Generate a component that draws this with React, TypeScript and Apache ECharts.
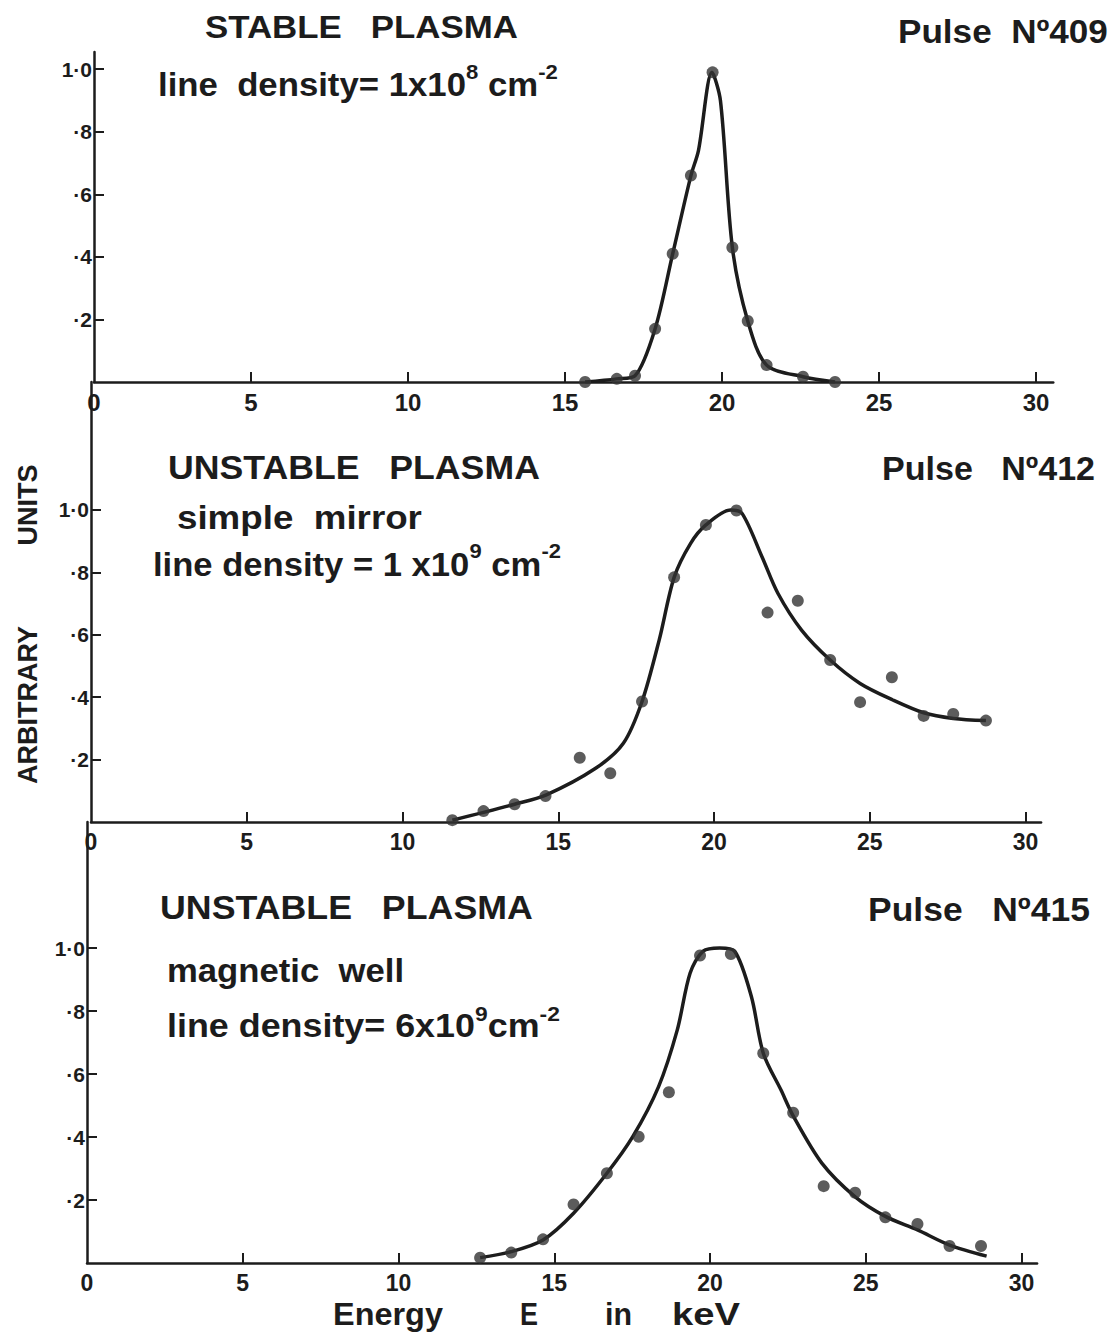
import React, { useEffect, useRef } from 'react';
import * as echarts from 'echarts';

// ---------- data ----------
const ENERGY_TICKS = [5, 10, 15, 20, 25, 30];
const ENERGY_LABELS = [0, 5, 10, 15, 20, 25, 30];
const INTENSITY_TICKS = [0.2, 0.4, 0.6, 0.8, 1.0];

// Panel 1: stable plasma, pulse 409
const p1Energy = [15.64, 16.65, 17.23, 17.87, 18.43, 19.01, 19.7, 20.33, 20.82, 21.42, 22.58, 23.6];
const p1Intensity = [0.0, 0.01, 0.02, 0.17, 0.41, 0.66, 0.99, 0.43, 0.195, 0.054, 0.017, 0.0];
const p1CurveEnergy = [15.64, 16.65, 17.23, 17.87, 18.43, 19.01, 19.25, 19.68, 19.95, 20.33, 20.82, 21.42, 22.58, 23.6];
const p1CurveIntensity = [0.0, 0.01, 0.02, 0.17, 0.41, 0.66, 0.74, 0.99, 0.9, 0.43, 0.195, 0.054, 0.017, 0.0];

// Panel 2: unstable plasma, simple mirror, pulse 412
const p2Energy = [11.6, 12.6, 13.6, 14.59, 15.69, 16.67, 17.69, 18.72, 19.74, 20.72, 21.72, 22.69, 23.73, 24.69, 25.71, 26.73, 27.68, 28.73];
const p2Intensity = [0.006, 0.035, 0.057, 0.083, 0.206, 0.156, 0.386, 0.784, 0.952, 0.998, 0.671, 0.709, 0.519, 0.384, 0.464, 0.34, 0.346, 0.325];
const p2CurveEnergy = [11.6, 13.6, 14.6, 16.2, 17.09, 17.69, 18.24, 18.72, 19.25, 19.74, 20.53, 20.9, 21.54, 22.05, 22.81, 23.73, 24.69, 25.74, 26.73, 27.68, 28.73];
const p2CurveIntensity = [0.006, 0.057, 0.086, 0.172, 0.252, 0.386, 0.583, 0.784, 0.893, 0.952, 1.0, 0.989, 0.85, 0.733, 0.615, 0.519, 0.444, 0.391, 0.35, 0.332, 0.325];

// Panel 3: unstable plasma, magnetic well, pulse 415
const p3Energy = [12.62, 13.62, 14.64, 15.62, 16.69, 17.71, 18.68, 19.68, 20.67, 21.71, 22.67, 23.65, 24.66, 25.63, 26.66, 27.69, 28.7];
const p3Intensity = [0.017, 0.033, 0.075, 0.186, 0.285, 0.401, 0.542, 0.976, 0.981, 0.666, 0.477, 0.244, 0.223, 0.145, 0.124, 0.054, 0.054];
const p3CurveEnergy = [12.62, 13.62, 14.64, 15.62, 16.69, 17.52, 18.35, 18.95, 19.36, 19.78, 20.31, 20.79, 21.33, 21.71, 22.28, 22.67, 23.59, 24.66, 25.63, 26.66, 27.69, 28.88];
const p3CurveIntensity = [0.017, 0.036, 0.073, 0.158, 0.285, 0.401, 0.56, 0.74, 0.92, 0.99, 1.0, 0.99, 0.845, 0.666, 0.549, 0.467, 0.317, 0.21, 0.148, 0.105, 0.057, 0.022];

const FONT = '"Liberation Sans", Arial, Helvetica, sans-serif';
const INK = '#1c1c1c';

const zip = (xs: number[], ys: number[]) => xs.map((x, i) => [x, ys[i]]);

function measure(text: string, font: string): number {
  const c = document.createElement('canvas');
  const ctx = c.getContext('2d');
  if (!ctx) return 0;
  ctx.font = font;
  return ctx.measureText(text).width;
}

function fitText(text: string, x: number, y: number, size: number, width: number, weight = 'bold') {
  const w = measure(text, `${weight} ${size}px ${FONT}`);
  let sx = w > 0 ? width / w : 1;
  sx = Math.max(0.8, Math.min(1.3, sx));
  return {
    type: 'text',
    x,
    y,
    scaleX: sx,
    style: {
      text,
      fontFamily: FONT,
      fontWeight: weight,
      fontSize: size,
      fill: INK,
      textAlign: 'left',
      verticalAlign: 'middle',
    },
  };
}

function supText(main1: string, sup1: string, main2: string, sup2: string, x: number, y: number, width: number) {
  const size = 33;
  const supSize = 21;
  const w =
    measure(main1, `bold ${size}px ${FONT}`) +
    measure(main2, `bold ${size}px ${FONT}`) +
    measure(sup1, `bold ${supSize}px ${FONT}`) +
    measure(sup2, `bold ${supSize}px ${FONT}`);
  let sx = w > 0 ? width / w : 1;
  sx = Math.max(0.85, Math.min(1.2, sx));
  return {
    type: 'text',
    x,
    y,
    scaleX: sx,
    style: {
      text: `{a|${main1}}{s|${sup1}}{a|${main2}}{s|${sup2}}`,
      fill: INK,
      textAlign: 'left',
      verticalAlign: 'middle',
      rich: {
        a: { fontFamily: FONT, fontWeight: 'bold', fontSize: size, fill: INK, lineHeight: 46 },
        s: { fontFamily: FONT, fontWeight: 'bold', fontSize: supSize, fill: INK, verticalAlign: 'top' },
      },
    },
  };
}

export default function App() {
  const ref = useRef<HTMLDivElement>(null);

  useEffect(() => {
    document.body.style.margin = '0';
    if (!ref.current) return;
    const chart = echarts.init(ref.current, undefined, { renderer: 'svg' });

    const grids = [
      { left: 94, top: 52, width: 30.55 * 31.4, height: 330 },
      { left: 91, top: 382, width: 30.5 * 31.15, height: 440 },
      { left: 87, top: 822, width: 30.5 * 31.15, height: 441 },
    ];
    const yMax = [1.055, 1.41, 1.4];
    const xMax = [30.55, 30.5, 30.5];
    const xLabelSize = [24, 23, 23];

    const xAxes = grids.map((_, i) => ({
      gridIndex: i,
      type: 'value',
      min: 0,
      max: xMax[i],
      axisLine: { show: true, onZero: false, lineStyle: { color: INK, width: 2.5 } },
      axisTick: { show: true, inside: true, length: 10, customValues: ENERGY_TICKS, lineStyle: { color: INK, width: 2 } },
      axisLabel: {
        show: true,
        customValues: ENERGY_LABELS,
        fontFamily: FONT,
        fontWeight: 'bold',
        fontSize: xLabelSize[i],
        color: INK,
        margin: 8,
      },
      splitLine: { show: false },
    }));

    const yAxes = grids.map((_, i) => ({
      gridIndex: i,
      type: 'value',
      min: 0,
      max: yMax[i],
      axisLine: { show: true, onZero: false, lineStyle: { color: INK, width: 2.5 } },
      axisTick: { show: true, inside: true, length: 10, customValues: INTENSITY_TICKS, lineStyle: { color: INK, width: 2 } },
      axisLabel: {
        show: true,
        customValues: INTENSITY_TICKS,
        formatter: (v: number) => (Math.abs(v - 1) < 1e-6 ? '1·0' : '·' + Math.round(v * 10)),
        fontFamily: FONT,
        fontWeight: 'bold',
        fontSize: 21,
        color: INK,
        margin: 2,
      },
      splitLine: { show: false },
    }));

    const lineSeries = (i: number, data: number[][]) => ({
      type: 'line',
      xAxisIndex: i,
      yAxisIndex: i,
      data,
      smooth: 0.3,
      showSymbol: false,
      symbol: 'none',
      lineStyle: { color: INK, width: 3.5 },
      z: 2,
      silent: true,
    });
    const scatterSeries = (i: number, data: number[][]) => ({
      type: 'scatter',
      xAxisIndex: i,
      yAxisIndex: i,
      data,
      symbol: 'circle',
      symbolSize: 12,
      itemStyle: { color: '#333333' },
      z: 3,
      silent: true,
    });

    const graphic = [
      // panel 1
      fitText('STABLE   PLASMA', 205, 27, 32, 313),
      fitText('Pulse  Nº409', 898, 31, 33, 210),
      supText('line  density= 1x10', '8', ' cm', '-2', 158, 84, 400),
      // panel 2
      fitText('UNSTABLE   PLASMA', 168, 467, 33, 372),
      fitText('Pulse   Nº412', 882, 469, 33, 213),
      fitText('simple  mirror', 177, 517, 33, 245),
      supText('line density = 1 x10', '9', ' cm', '-2', 153, 564, 408),
      // panel 3
      fitText('UNSTABLE   PLASMA', 160, 907, 33, 373),
      fitText('Pulse   Nº415', 868, 909, 33, 222),
      fitText('magnetic  well', 167, 970, 33, 237),
      supText('line density= 6x10', '9', 'cm', '-2', 167, 1026, 393),
      // axis titles
      {
        type: 'text',
        x: 28,
        y: 505,
        rotation: Math.PI / 2,
        style: { text: 'UNITS', fontFamily: FONT, fontWeight: 'bold', fontSize: 27, fill: INK, textAlign: 'center', verticalAlign: 'middle' },
      },
      {
        type: 'text',
        x: 28,
        y: 705,
        rotation: Math.PI / 2,
        style: { text: 'ARBITRARY', fontFamily: FONT, fontWeight: 'bold', fontSize: 27, fill: INK, textAlign: 'center', verticalAlign: 'middle' },
      },
      fitText('Energy', 333, 1314, 32, 110),
      fitText('E', 520, 1314, 32, 18),
      fitText('in', 605, 1314, 32, 27),
      fitText('keV', 672, 1314, 32, 68),
    ];

    chart.setOption({
      animation: false,
      backgroundColor: '#ffffff',
      grid: grids.map((g) => ({ ...g, containLabel: false })),
      xAxis: xAxes,
      yAxis: yAxes,
      series: [
        lineSeries(0, zip(p1CurveEnergy, p1CurveIntensity)),
        scatterSeries(0, zip(p1Energy, p1Intensity)),
        lineSeries(1, zip(p2CurveEnergy, p2CurveIntensity)),
        scatterSeries(1, zip(p2Energy, p2Intensity)),
        lineSeries(2, zip(p3CurveEnergy, p3CurveIntensity)),
        scatterSeries(2, zip(p3Energy, p3Intensity)),
      ],
      graphic,
    });

    return () => {
      chart.dispose();
    };
  }, []);

  return <div ref={ref} style={{ width: 1112, height: 1336 }} />;
}
